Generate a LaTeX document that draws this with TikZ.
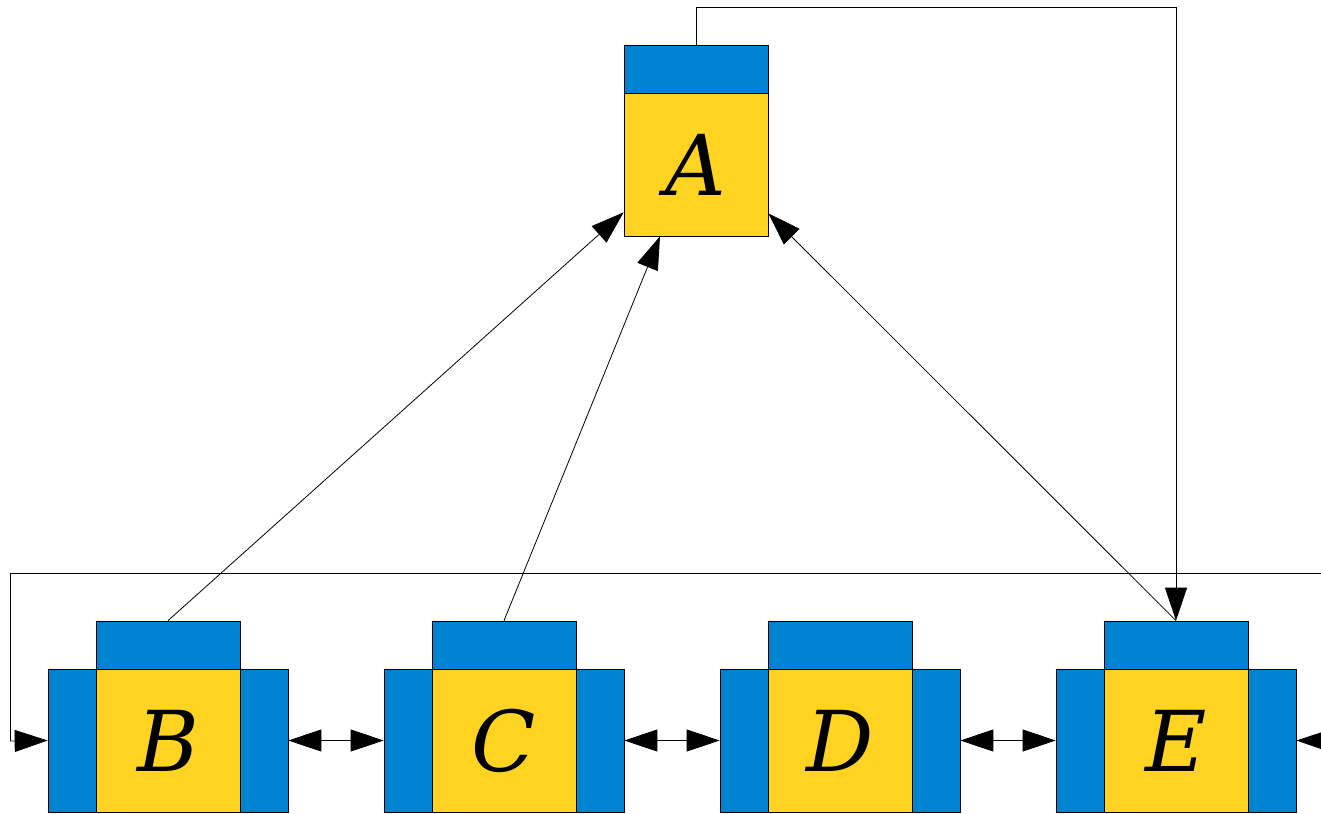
\documentclass[tikz,border=0pt]{standalone}
\usepackage{fontspec}
\newfontfamily\lblfont{DejaVu Serif}
\usetikzlibrary{arrows.meta,calc}
\definecolor{boxblue}{RGB}{0,131,208}
\definecolor{boxyellow}{RGB}{254,211,33}
\tikzset{
  yel/.style={draw=black, line width=0.7pt, fill=boxyellow, minimum width=144pt, minimum height=143pt, inner sep=0pt,
    font=\lblfont\itshape\fontsize{84}{84}\selectfont},
  bluetop/.style={draw=black, line width=0.7pt, fill=boxblue, minimum width=144pt, minimum height=48pt, inner sep=0pt},
  blueside/.style={draw=black, line width=0.7pt, fill=boxblue, minimum width=48pt, minimum height=143pt, inner sep=0pt},
  conn/.style={line width=0.8pt, draw=black},
  tip/.style={-{Triangle[length=33pt,width=22pt]}},
  dtip/.style={{Triangle[length=33pt,width=22pt]}-{Triangle[length=33pt,width=22pt]}}
}
\begin{document}
\begin{tikzpicture}[x=1pt,y=-1pt]
\useasboundingbox (0,0) rectangle (1321,813);
% node A
\node[bluetop] (Atop) at (696,69) {};
\node[yel] (A) at (696,164.5) {A};
% bottom nodes
\foreach \n/\x in {B/168,C/504,D/840,E/1176}{
  \node[bluetop] (\n top) at (\x,645) {};
  \node[blueside] (\n l) at (\x-96,740.5) {};
  \node[blueside] (\n r) at (\x+96,740.5) {};
  \node[yel] (\n) at (\x,740.5) {\n};
}
% helper coordinates
\coordinate (aw) at ($(A.south west)+(0,-24)$);
\coordinate (as) at ($(A.south)+(-36,0)$);
\coordinate (ae) at ($(A.south east)+(0,-23)$);
\coordinate (topR) at (1176,7.5);
\coordinate (topL) at (696,7.5);
\coordinate (loopR) at (1340,573.5);
\coordinate (loopL) at (10.5,573.5);
\coordinate (loopD) at (10.5,741);
\coordinate (inR) at (1360,741);
% connectors to A
\draw[conn,tip] (Btop.north) -- (aw);
\draw[conn,tip] (Ctop.north) -- (as);
\draw[conn,tip] (Etop.north) -- (ae);
% A to E around top
\draw[conn,tip] (Atop.north) -- (topL) -- (topR) -- (Etop.north);
% loop to B
\draw[conn,tip] (loopR) -- (loopL) -- (loopD) -- (Bl.west);
% double arrows between neighbours
\draw[conn,dtip] (Br.east) -- (Cl.west);
\draw[conn,dtip] (Cr.east) -- (Dl.west);
\draw[conn,dtip] (Dr.east) -- (El.west);
% incoming from the right edge
\draw[conn,tip] (inR) -- (Er.east);
\end{tikzpicture}
\end{document}
